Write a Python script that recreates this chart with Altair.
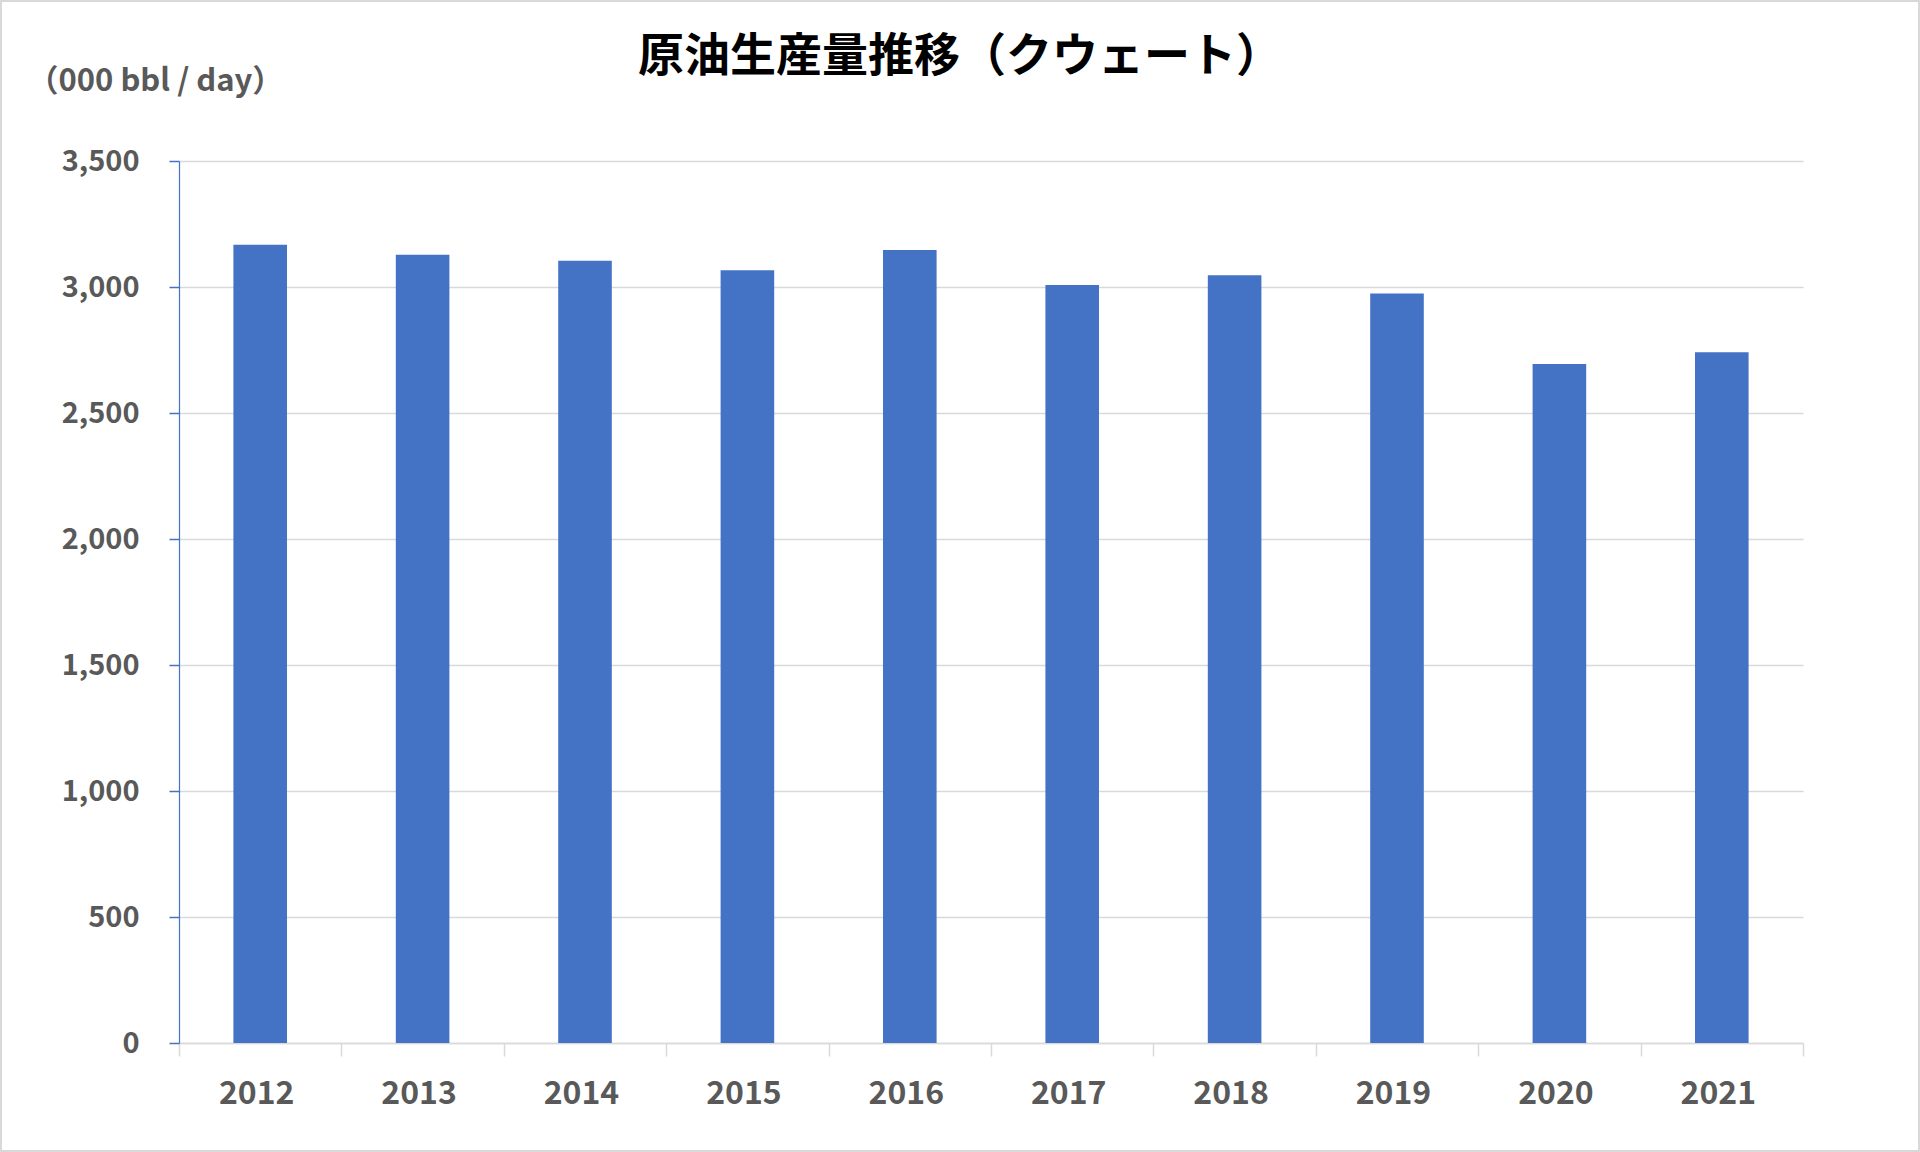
import altair as alt
import pandas as pd

years = ["2012", "2013", "2014", "2015", "2016", "2017", "2018", "2019", "2020", "2021"]
production = [3168, 3128, 3104, 3066, 3147, 3008, 3047, 2974, 2694, 2741]
y_ticks = [0, 500, 1000, 1500, 2000, 2500, 3000, 3500]

title_text = "原油生産量推移（クウェート）"
unit_text = "（000 bbl / day）"

df = pd.DataFrame({"year": years, "value": production})

FONT = "Noto Sans CJK JP"
GRAY = "#595959"
BLUE = "#4472C4"

bars = alt.Chart(df).mark_bar(color=BLUE, width=alt.RelativeBandSize(0.33)).encode(
    x=alt.X(
        "year:N",
        sort=None,
        scale=alt.Scale(paddingInner=0, paddingOuter=0),
        axis=alt.Axis(
            title=None,
            labelAngle=0,
            labelFont=FONT,
            labelFontSize=32,
            labelFontWeight="bold",
            labelColor=GRAY,
            labelPadding=22,
            labelOffset=-4,
            tickBand="extent",
            tickColor="#d9d9d9",
            tickSize=13,
            tickWidth=1.5,
            domainColor="#d9d9d9",
            domainWidth=1.5,
            grid=False,
        ),
    ),
    y=alt.Y(
        "value:Q",
        scale=alt.Scale(domain=[0, 3500], nice=False),
        axis=alt.Axis(
            values=y_ticks,
            format=",d",
            title=unit_text,
            titleFont=FONT,
            titleFontSize=31,
            titleFontWeight="bold",
            titleColor=GRAY,
            titleAngle=0,
            titleAlign="left",
            titleBaseline="middle",
            titleX=-152,
            titleY=-80,
            labelFont=FONT,
            labelFontSize=29,
            labelFontWeight="bold",
            labelColor=GRAY,
            labelPadding=30,
            tickColor=BLUE,
            tickSize=10,
            tickWidth=1.5,
            domainColor=BLUE,
            domainWidth=1.2,
            grid=True,
            gridColor="#d9d9d9",
            gridWidth=1.5,
        ),
    ),
)

title = alt.Chart(pd.DataFrame({"t": [title_text]})).mark_text(
    font=FONT, fontSize=46, fontWeight="bold", color="#000000",
    align="center", baseline="middle"
).encode(
    text="t:N", x=alt.value(781), y=alt.value(-104)
)

border = alt.Chart(pd.DataFrame({"a": [0]})).mark_rect(
    fill=None, stroke="#d9d9d9", strokeWidth=2
).encode(
    x=alt.value(-178), x2=alt.value(1740), y=alt.value(-160), y2=alt.value(990)
)

chart = alt.layer(bars, title, border).properties(
    width=1624,
    height=882,
    padding={"left": 179, "top": 161, "right": 117, "bottom": 109},
    autosize="none",
    background="white",
).configure_view(stroke=None)

chart.save("out.html", embed_options={"renderer": "svg", "actions": False})
